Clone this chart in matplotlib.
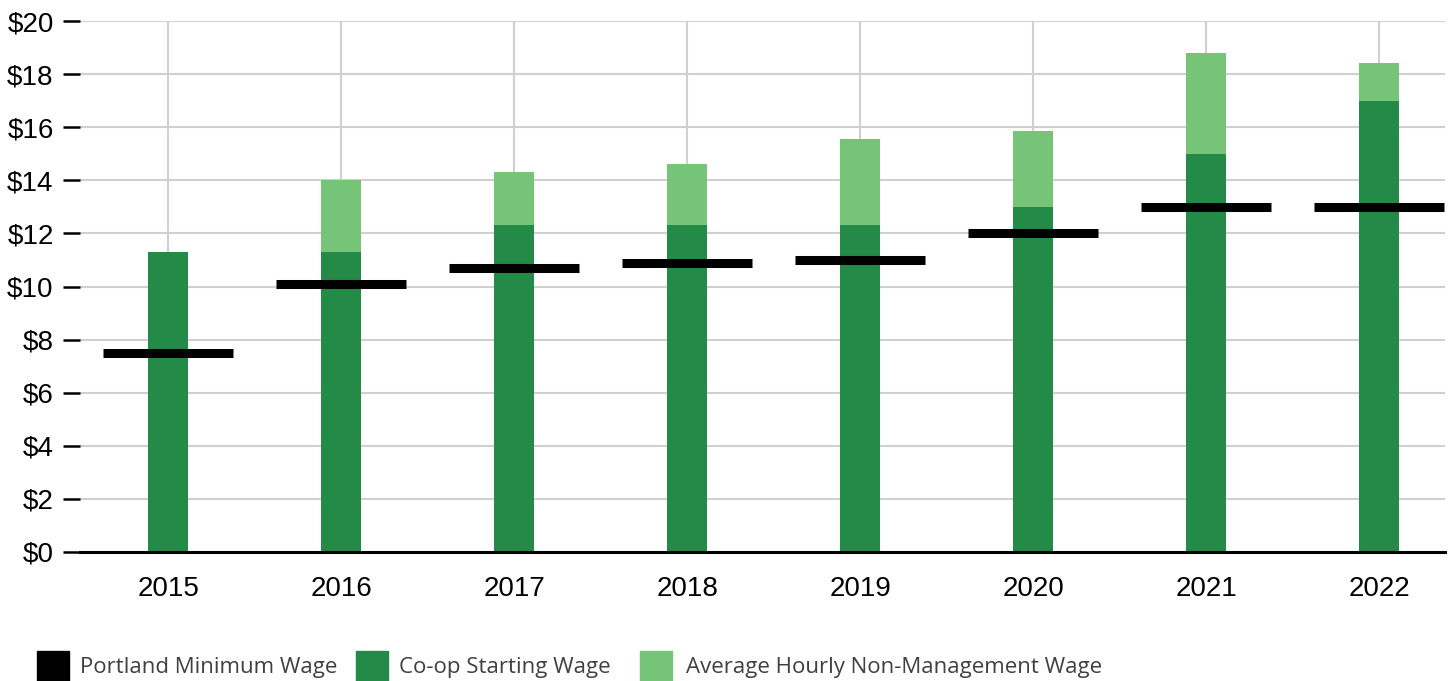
import numpy as np
import matplotlib.pyplot as plt
from matplotlib.patches import Rectangle

years = ['2015', '2016', '2017', '2018', '2019', '2020', '2021', '2022']
coop_start = [11.3, 11.3, 12.3, 12.3, 12.3, 13.0, 15.0, 17.0]
avg_hourly = [np.nan, 14.0, 14.3, 14.6, 15.55, 15.85, 18.8, 18.4]
min_wage = [7.50, 10.10, 10.68, 10.90, 11.00, 12.00, 13.00, 13.00]

dark_green = '#248a47'
light_green = '#76c477'
grid_gray = '#d0d0d0'

plt.rcParams['font.family'] = ['Liberation Sans', 'DejaVu Sans']

fig = plt.figure(figsize=(14.52, 6.81), dpi=100)
ax = fig.add_axes([80 / 1452, 129 / 681, 1365 / 1452, 531 / 681])

x = np.arange(len(years))
bar_w = 0.23

ax.bar(x, avg_hourly, width=bar_w, color=light_green, zorder=2)
ax.bar(x, coop_start, width=bar_w, color=dark_green, zorder=3)
ax.hlines(min_wage, x - 0.375, x + 0.375, colors='black', linewidth=6.5, zorder=4)

ax.set_xlim(-0.51, 7.38)
ax.set_ylim(0, 20)
ax.set_yticks(range(0, 21, 2))
ax.set_yticklabels(['$%d' % v for v in range(0, 21, 2)])
ax.set_xticks(x)
ax.set_xticklabels(years)

ax.grid(True, color=grid_gray, linewidth=1.5, zorder=0)
ax.set_axisbelow(True)
for s in ['left', 'right', 'top']:
    ax.spines[s].set_visible(False)
ax.spines['bottom'].set_linewidth(2.2)
ax.spines['bottom'].set_zorder(5)

ax.tick_params(axis='y', length=12, width=1.8, pad=7, labelsize=20, colors='black')
ax.tick_params(axis='x', length=0, pad=17, labelsize=20)

# legend along the bottom edge
legend_items = [('Portland Minimum Wage', 'black', 37, 80),
                ('Co-op Starting Wage', dark_green, 356, 399),
                ('Average Hourly Non-Management Wage', light_green, 640, 686)]
for label, color, sx, tx in legend_items:
    fig.patches.append(Rectangle((sx / 1452, -12 / 681), 32 / 1452, 42 / 681,
                                 transform=fig.transFigure, color=color))
    fig.text(tx / 1452, 13 / 681, label, fontsize=16, color='#404040',
             family=['Open Sans', 'DejaVu Sans'], va='center', ha='left')

fig.savefig('out.png', dpi=100)
